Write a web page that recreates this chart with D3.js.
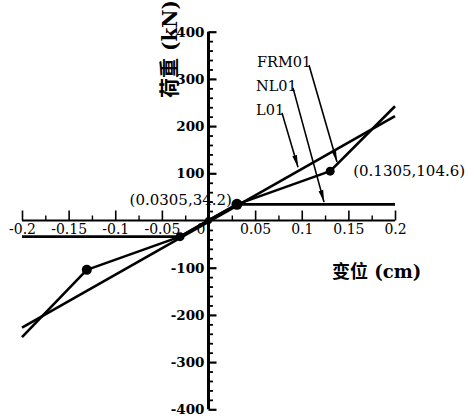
<!DOCTYPE html>
<html><head><meta charset="utf-8">
<script src="https://cdn.jsdelivr.net/npm/d3@7"></script>
<style>
html,body{margin:0;padding:0;background:#fff;}
svg{display:block;}
</style></head><body>
<svg id="chart" width="469" height="419"></svg>
<script>
// Load–displacement relations: displacement (cm) vs. load (kN)
const frm01Disp = [-0.2, -0.1305, -0.0305, 0, 0.0305, 0.1305, 0.2];
const frm01Load = [-247, -104.6, -34.2, 0, 34.2, 104.6, 242];
const nl01Disp = [-0.2, -0.0305, 0, 0.0305, 0.2];
const nl01Load = [-34.2, -34.2, 0, 34.2, 34.2];
const l01Disp = [-0.2, 0.2];
const l01Load = [-227, 221];

// marked points on the curves
const markDisp = [0, 0.0305, 0.1305, -0.0305, -0.1305];
const markLoad = [0, 34.2, 104.6, -34.2, -104.6];
const markSize = [3.5, 5.5, 4.5, 4.5, 5];
// points whose coordinates are written next to them
const notedDisp = [0.0305, 0.1305];
const notedLoad = [34.2, 104.6];

const xTicks = [-0.2, -0.15, -0.1, -0.05, 0, 0.05, 0.1, 0.15, 0.2];
const yTicks = [-400, -300, -200, -100, 100, 200, 300, 400];

// series names with leader lines (label anchor, leader start, leader tip, in data units)
const seriesNames = ["FRM01", "NL01", "L01"];
const nameAt = [[0.052, 325], [0.051, 274], [0.051, 223]];
const leaderFrom = [[0.1078, 329], [0.0906, 281], [0.0788, 228]];
const leaderTo = [[0.1378, 124], [0.1239, 39], [0.096, 113]];

const svg = d3.select("#chart");
const x = d3.scaleLinear().domain([-0.2, 0.2]).range([22, 395]);
const y = d3.scaleLinear().domain([-400, 400]).range([409.3, 31.7]);
const serif = "'DejaVu Serif',serif";
const titleFont = "'DejaVu Serif','Noto Sans CJK SC',sans-serif";

svg.append("rect").attr("width", 469).attr("height", 419).attr("fill", "#fff");

// ---- x axis (ticks point up, labels underneath)
const xAxis = svg.append("g").attr("transform", `translate(0,${y(0)})`)
  .call(d3.axisBottom(x).tickValues(xTicks).tickSizeInner(-10).tickSizeOuter(0)
    .tickPadding(4).tickFormat(d => String(d)));
xAxis.select(".domain").remove();
xAxis.selectAll(".tick line").attr("stroke", "#000").attr("stroke-width", 1.6);
xAxis.selectAll(".tick text").attr("fill", "#000")
  .style("font-family", serif).style("font-size", "14px")
  .attr("dx", d => d === 0 ? -8 : 0);
const xMinor = svg.append("g").attr("transform", `translate(0,${y(0)})`)
  .call(d3.axisBottom(x).tickValues(d3.range(-8, 9).filter(i => i % 2 !== 0).map(i => i * 0.025))
    .tickSizeInner(-5).tickSizeOuter(0).tickFormat(""));
xMinor.select(".domain").remove();
xMinor.selectAll(".tick line").attr("stroke", "#000").attr("stroke-width", 1.4);
svg.append("line").attr("x1", x(-0.2)).attr("x2", x(0.2))
  .attr("y1", y(0)).attr("y2", y(0)).attr("stroke", "#000").attr("stroke-width", 2);

// ---- y axis (ticks point right, labels on the left)
const yAxis = svg.append("g").attr("transform", `translate(${x(0)},0)`)
  .call(d3.axisLeft(y).tickValues(yTicks).tickSizeInner(-8).tickSizeOuter(0)
    .tickPadding(4).tickFormat(d => String(d)));
yAxis.select(".domain").remove();
yAxis.selectAll(".tick line").attr("stroke", "#000").attr("stroke-width", 2.2);
yAxis.selectAll(".tick text").attr("fill", "#000")
  .style("font-family", serif).style("font-size", "13.5px").style("font-weight", "bold");
const yMinor = svg.append("g").attr("transform", `translate(${x(0)},0)`)
  .call(d3.axisLeft(y).tickValues(d3.range(-20, 21).map(i => i * 20).filter(v => v % 100 !== 0))
    .tickSizeInner(-4.5).tickSizeOuter(0).tickFormat(""));
yMinor.select(".domain").remove();
yMinor.selectAll(".tick line").attr("stroke", "#000").attr("stroke-width", 1.8);
svg.append("line").attr("x1", x(0)).attr("x2", x(0))
  .attr("y1", y(400)).attr("y2", y(-400)).attr("stroke", "#000").attr("stroke-width", 3);

// ---- curves
const line = d3.line().x(d => x(d[0])).y(d => y(d[1]));
const curves = [
  d3.zip(frm01Disp, frm01Load),
  d3.zip(nl01Disp, nl01Load),
  d3.zip(l01Disp, l01Load)
];
svg.append("g").selectAll("path").data(curves).join("path")
  .attr("d", line).attr("fill", "none").attr("stroke", "#000")
  .attr("stroke-width", 2.6).attr("stroke-linejoin", "round");

// ---- marked points
svg.append("g").selectAll("circle").data(d3.zip(markDisp, markLoad, markSize)).join("circle")
  .attr("cx", d => x(d[0])).attr("cy", d => y(d[1])).attr("r", d => d[2]).attr("fill", "#000");

// coordinate notes
const noteText = (dx, ld) => `(${dx},${ld})`;
svg.append("text").attr("x", x(notedDisp[0]) - 5).attr("y", y(notedLoad[0]) + 1)
  .attr("text-anchor", "end").style("font-family", serif).style("font-size", "15px")
  .text(noteText(notedDisp[0], notedLoad[0]));
svg.append("text").attr("x", x(notedDisp[1]) + 23).attr("y", y(notedLoad[1]) + 5)
  .attr("text-anchor", "start").style("font-family", serif).style("font-size", "15px")
  .text(noteText(notedDisp[1], notedLoad[1]));

// ---- series names with arrows
const defs = svg.append("defs");
defs.append("marker").attr("id", "arr").attr("viewBox", "0 0 12 6")
  .attr("refX", 12).attr("refY", 3).attr("markerWidth", 12).attr("markerHeight", 6)
  .attr("markerUnits", "userSpaceOnUse").attr("orient", "auto")
  .append("path").attr("d", "M0,0.6 L12,3 L0,5.4 Z").attr("fill", "#000");

const names = svg.append("g");
seriesNames.forEach((name, i) => {
  names.append("text").attr("x", x(nameAt[i][0])).attr("y", y(nameAt[i][1]))
    .style("font-family", serif).style("font-size", "14.5px").text(name);
  names.append("line")
    .attr("x1", x(leaderFrom[i][0])).attr("y1", y(leaderFrom[i][1]))
    .attr("x2", x(leaderTo[i][0])).attr("y2", y(leaderTo[i][1]))
    .attr("stroke", "#000").attr("stroke-width", 1.6).attr("marker-end", "url(#arr)");
});

// ---- axis titles
svg.append("text").attr("transform", "translate(177,49) rotate(-90)")
  .attr("text-anchor", "middle").style("font-family", titleFont)
  .style("font-size", "20px").style("font-weight", "bold").text("荷重 (kN)");
svg.append("text").attr("x", 332).attr("y", 278)
  .style("font-family", titleFont).style("font-size", "18px").style("font-weight", "bold")
  .text("变位 (cm)");
</script>
</body></html>
